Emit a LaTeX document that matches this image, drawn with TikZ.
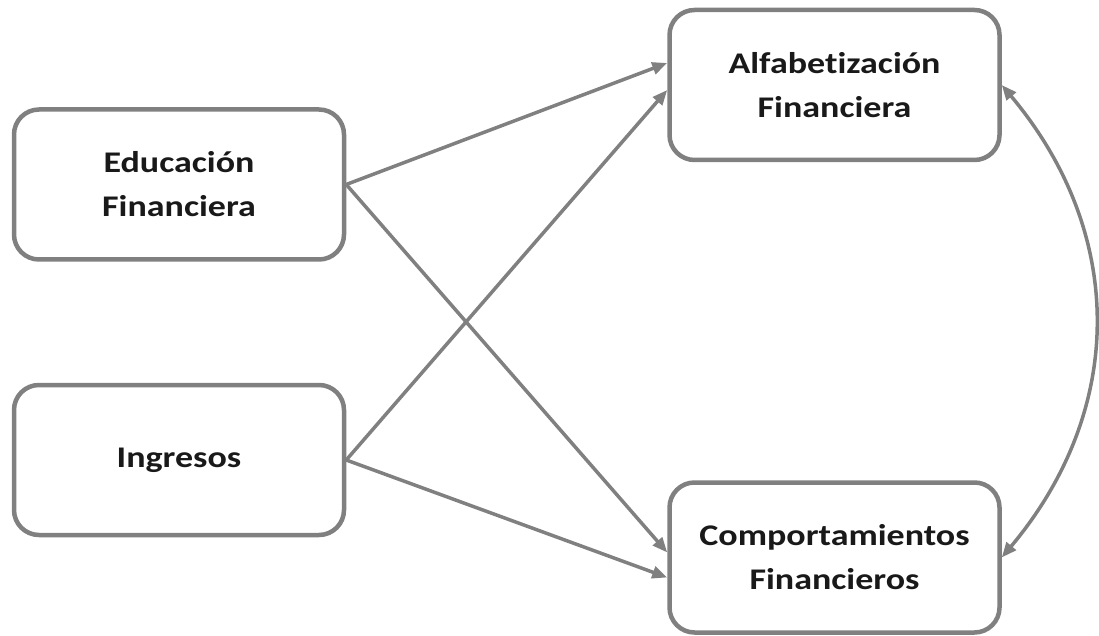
\documentclass[tikz,border=0pt]{standalone}
\usepackage{fontspec}
\setmainfont{Carlito}[FakeStretch=1.2, Ligatures=CommonOff]
\usetikzlibrary{arrows.meta}
\definecolor{linegray}{RGB}{128,128,128}

\begin{document}
\begin{tikzpicture}[x=1pt, y=1pt,
    varbox/.style={draw=linegray, line width=4.5pt, rounded corners=25pt,
      minimum width=330pt, minimum height=150pt, align=center,
      font=\fontsize{30}{44}\selectfont\bfseries, text=black!90},
    link/.style={draw=linegray, line width=3.5pt, -{Triangle[length=15pt, width=12pt]}}]
  \useasboundingbox (0, 0) rectangle (1099, 635);
  \node[varbox] (edu) at (179, 450.5) {Educación\\Financiera};
  \node[varbox] (ing) at (179, 175) {Ingresos};
  \node[varbox] (alf) at (834.5, 550) {Alfabetización\\Financiera};
  \node[varbox] (comp) at (834.5, 77.5) {Comportamientos\\Financieros};
  \draw[link] (edu.east) -- ([yshift=22pt]alf.west);
  \draw[link] (edu.east) -- ([yshift=5pt]comp.west);
  \draw[link] (ing.east) -- ([yshift=-5pt]alf.west);
  \draw[link] (ing.east) -- ([yshift=-20pt]comp.west);
  \draw[link, {Triangle[length=15pt, width=12pt]}-{Triangle[length=15pt, width=12pt]}]
    (alf.east) to[out=-50, in=50, looseness=1.05] (comp.east);
\end{tikzpicture}
\end{document}
